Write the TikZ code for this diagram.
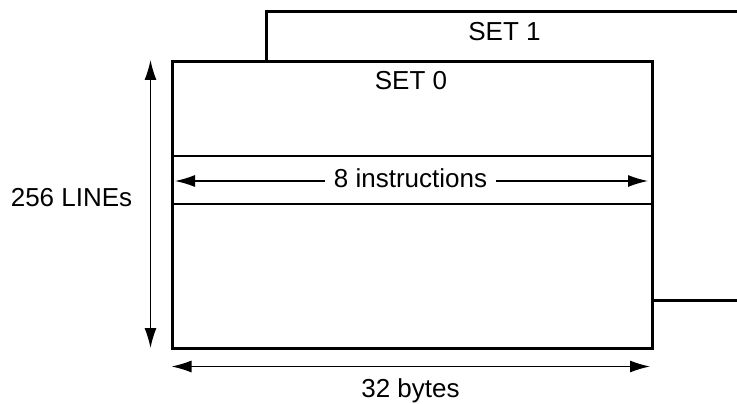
\documentclass[tikz,border=0pt]{standalone}
\usepackage{fontspec}
\setmainfont{Liberation Sans}
\usetikzlibrary{arrows.meta,positioning}
\definecolor{lineblack}{RGB}{0,0,0}

\begin{document}
\begin{tikzpicture}[x=1pt, y=-1pt, font=\fontsize{26}{31}\selectfont]
\useasboundingbox (0,0) rectangle (737,404);
% set 1, behind set 0, runs off to the right
\coordinate (s1foot) at (266,60);
\coordinate (s1top) at (737,12);
\coordinate (s1low) at (737,300);
\draw[draw=lineblack, line width=3pt] (s1foot) |- (s1top);
\node[rectangle, draw=lineblack, line width=3pt, inner sep=0pt, minimum width=480pt, minimum height=287pt, anchor=north west] (set0) at (171,60) {};
\draw[draw=lineblack, line width=3pt] (set0.east |- s1low) -- (s1low);

% one line of the cache
\coordinate (bandtop) at (0,155.5);
\coordinate (bandbot) at (0,203.5);
\draw[draw=lineblack, line width=2pt] (set0.west |- bandtop) -- (set0.east |- bandtop);
\draw[draw=lineblack, line width=2pt] (set0.west |- bandbot) -- (set0.east |- bandbot);

\node[anchor=base] (set0lbl) at (411,90) {SET 0};
\node[anchor=base] (set1lbl) at (504.5,41) {SET 1};

% dimensions
\coordinate (ileft) at (175,181);
\coordinate (iright) at (648,181);
\draw[{Latex[length=20pt,width=12pt]}-{Latex[length=20pt,width=12pt]}, line width=1.3pt] (ileft) -- (iright);
\node[anchor=base, fill=white, inner xsep=9pt, inner ysep=2pt] (instr) at (410.5,187) {8 instructions};

\coordinate (vtop) at (150.5,60);
\coordinate (vbot) at (150.5,348);
\draw[{Latex[length=20pt,width=12pt]}-{Latex[length=20pt,width=12pt]}, line width=1.3pt] (vtop) -- (vbot);
\node[anchor=base] (lines) at (71.5,206) {256 LINEs};

\coordinate (hleft) at (171.5,366.5);
\coordinate (hright) at (650,366.5);
\draw[{Latex[length=20pt,width=12pt]}-{Latex[length=20pt,width=12pt]}, line width=1.3pt] (hleft) -- (hright);
\node[anchor=base] (bytes) at (410.5,397) {32 bytes};
\end{tikzpicture}
\end{document}
